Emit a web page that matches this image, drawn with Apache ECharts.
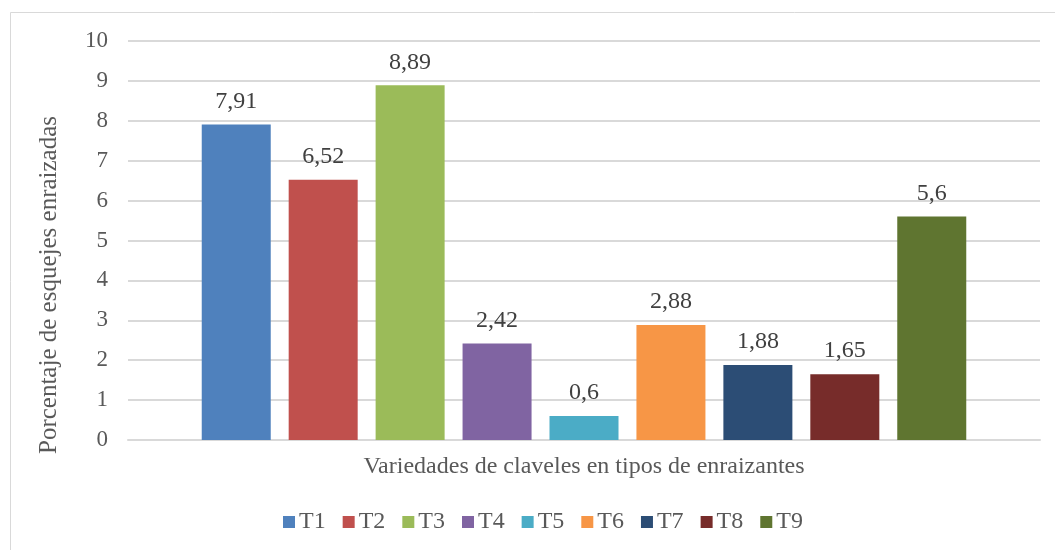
<!DOCTYPE html>
<html>
<head>
<meta charset="utf-8">
<script src="https://cdn.jsdelivr.net/npm/echarts@6/dist/echarts.min.js"></script>
<style>
  html, body { margin: 0; padding: 0; background: #fff; }
  #chart { width: 1055px; height: 550px; }
</style>
</head>
<body>
<div id="chart"></div>
<script>
// series names, values and colours
const seriesNames = ['T1', 'T2', 'T3', 'T4', 'T5', 'T6', 'T7', 'T8', 'T9'];
const seriesValues = [7.91, 6.52, 8.89, 2.42, 0.6, 2.88, 1.88, 1.65, 5.6];
const seriesColors = ['#4f81bd', '#c0504d', '#9bbb59', '#8064a2', '#4bacc6',
                      '#f79646', '#2c4d75', '#772c2a', '#5f7530'];
const categories = [''];
const yTitle = 'Porcentaje de esquejes enraizadas';
const xTitle = 'Variedades de claveles en tipos de enraizantes';

const font = 'Liberation Serif';
const textColor = '#595959';

const chart = echarts.init(document.getElementById('chart'));

const series = seriesNames.map(function (name, i) {
    return {
        name: name,
        type: 'bar',
        barWidth: 69,
        barGap: '26%',
        itemStyle: { color: seriesColors[i] },
        label: {
            show: true,
            position: 'top',
            distance: 11,
            fontFamily: font,
            fontSize: 24,
            color: '#404040',
            formatter: function (p) {
                return String(p.value).replace('.', ',');
            }
        },
        data: [seriesValues[i]]
    };
});

const option = {
    backgroundColor: '#fff',
    animation: false,
    textStyle: { fontFamily: font },
    graphic: [{
        type: 'rect',
        shape: { x: 10.5, y: 12.5, width: 1100, height: 600 },
        style: { fill: 'none', stroke: '#d9d9d9', lineWidth: 1 },
        silent: true
    }, {
        // y axis title, sits lower than the plot centre like the original
        type: 'text',
        x: 49,
        y: 285,
        rotation: Math.PI / 2,
        style: {
            text: yTitle,
            font: '25px "Liberation Serif"',
            fill: textColor,
            align: 'center',
            verticalAlign: 'middle'
        },
        silent: true
    }],
    grid: { left: 128, right: 15, top: 41, bottom: 110 },
    legend: {
        bottom: 11,
        left: 278,
        itemWidth: 12,
        itemHeight: 12,
        itemGap: 17,
        icon: 'rect',
        textStyle: { fontFamily: font, fontSize: 24, color: textColor, padding: [0, 0, 0, -1] },
        data: seriesNames
    },
    xAxis: {
        type: 'category',
        data: categories,
        name: xTitle,
        nameLocation: 'middle',
        nameGap: 15,
        nameTextStyle: { fontFamily: font, fontSize: 24, color: textColor },
        axisLine: { show: true, lineStyle: { color: '#d9d9d9', width: 2 } },
        axisTick: { show: false },
        axisLabel: { show: false }
    },
    yAxis: {
        type: 'value',
        min: 0,
        max: 10,
        interval: 1,
        axisLine: { show: false },
        axisTick: { show: false },
        axisLabel: { fontFamily: font, fontSize: 23, color: textColor, margin: 20 },
        splitLine: { lineStyle: { color: '#d9d9d9', width: 2 } }
    },
    series: series
};

chart.setOption(option);
</script>
</body>
</html>
